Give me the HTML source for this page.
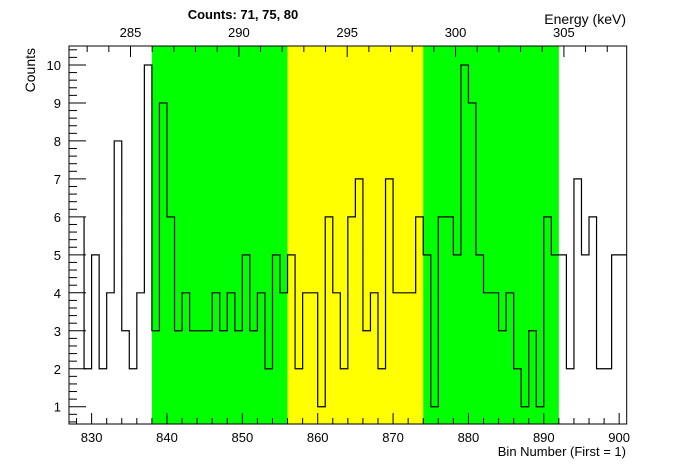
<!DOCTYPE html>
<html><head><meta charset="utf-8"><style>
body{margin:0;background:#fff;}
svg{display:block;font-family:"Liberation Sans",sans-serif;}
</style></head><body>
<svg id="c" width="696" height="472" xmlns="http://www.w3.org/2000/svg"></svg>
<script>
const binStart = 829;
const counts = [2,5,2,4,8,3,2,4,10,3,9,6,3,4,3,3,3,4,3,4,3,5,3,4,2,5,4,5,2,4,4,1,6,4,2,6,7,3,4,2,7,4,4,4,6,5,1,6,6,5,10,9,5,4,4,3,4,2,1,3,1,6,5,5,2,7,5,6,2,2,5,5];
const firstLeftEdgeValue = 6;
const regionEdges = [838,856,874,892];
const regionColors = ['#00ff00','#ffff00','#00ff00'];
const xTickLabels = [830,840,850,860,870,880,890,900];
const yTickLabels = [1,2,3,4,5,6,7,8,9,10];
const eTickLabels = [285,290,295,300,305];
const titleCounts = [71,75,80];

const L=69,R=626.7,T=46,B=424;
const xMin=827,xMax=901,yMin=0.545,yMax=10.5;
const X=v=>L+(v-xMin)/(xMax-xMin)*(R-L);
const Y=v=>B-(v-yMin)/(yMax-yMin)*(B-T);
const E=e=>130.5+(e-285)*21.67;
const svg=document.getElementById('c');
const NS='http://www.w3.org/2000/svg';
function mk(t,a,txt){const e=document.createElementNS(NS,t);for(const k in a)e.setAttribute(k,a[k]);if(txt!==undefined)e.textContent=txt;svg.appendChild(e);return e;}

for(let i=0;i<regionColors.length;i++){
  const r=mk('rect',{x:X(regionEdges[i]),y:T,width:X(regionEdges[i+1])-X(regionEdges[i]),height:B-T,fill:regionColors[i]});
  
  
}
let d='M'+X(binStart)+','+Y(firstLeftEdgeValue);
counts.forEach((c,i)=>{const x0=X(binStart+i),x1=X(binStart+i+1);d+=' L'+x0+','+Y(c)+' L'+x1+','+Y(c);});
const p=mk('path',{d:d,fill:'none',stroke:'#000','stroke-width':1.2});



const fr=mk('rect',{x:L,y:T,width:R-L,height:B-T,fill:'none',stroke:'#000','stroke-width':1});



// y ticks
for(let v=0.6;v<=10.5;v+=0.2){const vv=Math.round(v*10)/10;const maj=Math.abs(vv-Math.round(vv))<1e-6;mk('line',{x1:L,x2:L+(maj?17:8),y1:Y(vv),y2:Y(vv),stroke:'#000'});}
yTickLabels.forEach(v=>{const t=mk('text',{x:L-8,y:Y(v)+5,'text-anchor':'end','font-size':13},v);

});
// x ticks
for(let v=828;v<=901;v+=2){const maj=v%10===0;mk('line',{x1:X(v),x2:X(v),y1:B,y2:B-(maj?11:6),stroke:'#000'});}
xTickLabels.forEach(v=>{const t=mk('text',{x:X(v),y:442,'text-anchor':'middle','font-size':13},v);

});
// energy ticks
for(let e=283;e<=307;e++){const x=E(e);if(x<L||x>R)continue;const maj=e%5===0;mk('line',{x1:x,x2:x,y1:T,y2:T+(maj?11:6),stroke:'#000'});}
eTickLabels.forEach(e=>{const t=mk('text',{x:E(e),y:37,'text-anchor':'middle','font-size':13},e);

});

const tt=mk('text',{x:243,y:19,'text-anchor':'middle','font-size':13,'font-weight':'bold','xml:space':'preserve'},'Counts:   '+titleCounts.join(',   '));


const et=mk('text',{x:626,y:24,'text-anchor':'end','font-size':14},'Energy (keV)');


const xt=mk('text',{x:626,y:456,'text-anchor':'end','font-size':13},'Bin Number (First = 1)');


const yt=mk('text',{x:0,y:0,'text-anchor':'end','font-size':14,transform:'translate(35,48) rotate(-90)'},'Counts');


</script>
</body></html>
